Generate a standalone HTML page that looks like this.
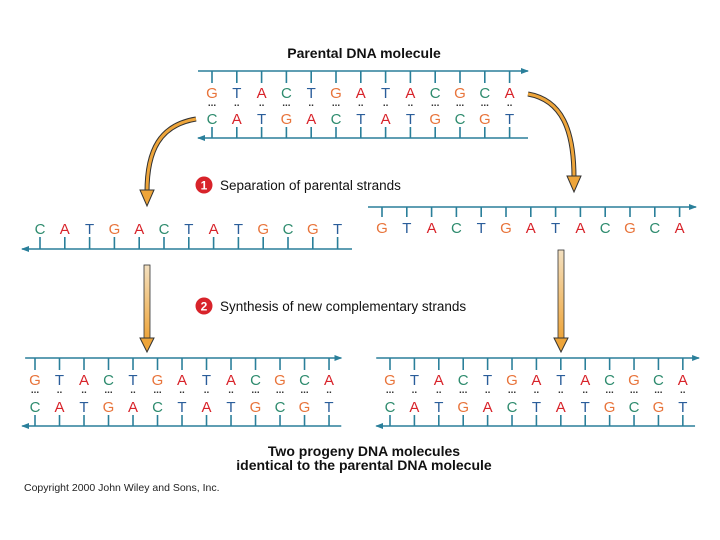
<!DOCTYPE html>
<html><head><meta charset="utf-8"><style>
html,body{margin:0;padding:0;background:#fff}
svg{display:block}
text{font-family:"Liberation Sans",Arial,sans-serif}
.G{fill:#e8743b}.T{fill:#2a5d9a}.A{fill:#d8232a}.C{fill:#2e8b6e}
.L{font-size:15px;text-anchor:middle}
.d{font-size:10px;text-anchor:middle;fill:#333;font-weight:bold}
</style></head><body>
<svg width="720" height="540" viewBox="0 0 720 540" xmlns="http://www.w3.org/2000/svg">
<defs>
<marker id="ar" markerWidth="8" markerHeight="6" refX="7" refY="3" orient="auto" markerUnits="userSpaceOnUse"><path d="M0,0 L8,3 L0,6 z" fill="#2a7f9a"/></marker>
<linearGradient id="og" x1="0" y1="0" x2="0" y2="1"><stop offset="0" stop-color="#f3e0c0"/><stop offset="1" stop-color="#eea53a"/></linearGradient>
</defs>

<text x="364" y="58" font-size="14" font-weight="bold" text-anchor="middle" fill="#111">Parental DNA molecule</text>

<g transform="translate(212,71)" stroke="#2a7f9a" stroke-width="1.6">
<line x1="-14" y1="0" x2="316" y2="0" marker-end="url(#ar)"/>
<line x1="316" y1="67" x2="-14" y2="67" marker-end="url(#ar)"/>
<path d="M0,0v12M24.8,0v12M49.6,0v12M74.4,0v12M99.2,0v12M124,0v12M148.8,0v12M173.6,0v12M198.4,0v12M223.2,0v12M248,0v12M272.8,0v12M297.6,0v12 M0,56v11M24.8,56v11M49.6,56v11M74.4,56v11M99.2,56v11M124,56v11M148.8,56v11M173.6,56v11M198.4,56v11M223.2,56v11M248,56v11M272.8,56v11M297.6,56v11"/>
</g>
<g transform="translate(212,71)">
<text class="L" y="27"><tspan x="0" class="G">G</tspan><tspan x="24.8" class="T">T</tspan><tspan x="49.6" class="A">A</tspan><tspan x="74.4" class="C">C</tspan><tspan x="99.2" class="T">T</tspan><tspan x="124" class="G">G</tspan><tspan x="148.8" class="A">A</tspan><tspan x="173.6" class="T">T</tspan><tspan x="198.4" class="A">A</tspan><tspan x="223.2" class="C">C</tspan><tspan x="248" class="G">G</tspan><tspan x="272.8" class="C">C</tspan><tspan x="297.6" class="A">A</tspan></text>
<text class="d" y="35"><tspan x="0">...</tspan><tspan x="24.8">..</tspan><tspan x="49.6">..</tspan><tspan x="74.4">...</tspan><tspan x="99.2">..</tspan><tspan x="124">...</tspan><tspan x="148.8">..</tspan><tspan x="173.6">..</tspan><tspan x="198.4">..</tspan><tspan x="223.2">...</tspan><tspan x="248">...</tspan><tspan x="272.8">...</tspan><tspan x="297.6">..</tspan></text>
<text class="L" y="53"><tspan x="0" class="C">C</tspan><tspan x="24.8" class="A">A</tspan><tspan x="49.6" class="T">T</tspan><tspan x="74.4" class="G">G</tspan><tspan x="99.2" class="A">A</tspan><tspan x="124" class="C">C</tspan><tspan x="148.8" class="T">T</tspan><tspan x="173.6" class="A">A</tspan><tspan x="198.4" class="T">T</tspan><tspan x="223.2" class="G">G</tspan><tspan x="248" class="C">C</tspan><tspan x="272.8" class="G">G</tspan><tspan x="297.6" class="T">T</tspan></text>
</g>

<path d="M196,119 C160,125 147,150 147,192" fill="none" stroke="#333" stroke-width="5"/>
<path d="M196,119 C160,125 147,150 147,192" fill="none" stroke="#eea53a" stroke-width="3"/>
<path d="M140,190 L154,190 L147,206 z" fill="#eea53a" stroke="#333" stroke-width="1"/>
<path d="M528,94 C562,100 574,130 574,178" fill="none" stroke="#333" stroke-width="5"/>
<path d="M528,94 C562,100 574,130 574,178" fill="none" stroke="#eea53a" stroke-width="3"/>
<path d="M567,176 L581,176 L574,192 z" fill="#eea53a" stroke="#333" stroke-width="1"/>

<circle cx="204" cy="185" r="8.5" fill="#d8232a"/>
<text x="204" y="189.5" font-size="12" font-weight="bold" fill="#fff" text-anchor="middle">1</text>
<text x="220" y="190" font-size="13.5" fill="#111">Separation of parental strands</text>

<g transform="translate(40,249)" stroke="#2a7f9a" stroke-width="1.6">
<line x1="312" y1="0" x2="-18" y2="0" marker-end="url(#ar)"/>
<path d="M0,0v-12M24.8,0v-12M49.6,0v-12M74.4,0v-12M99.2,0v-12M124,0v-12M148.8,0v-12M173.6,0v-12M198.4,0v-12M223.2,0v-12M248,0v-12M272.8,0v-12M297.6,0v-12"/>
</g>
<text class="L" y="234" transform="translate(40,0)"><tspan x="0" class="C">C</tspan><tspan x="24.8" class="A">A</tspan><tspan x="49.6" class="T">T</tspan><tspan x="74.4" class="G">G</tspan><tspan x="99.2" class="A">A</tspan><tspan x="124" class="C">C</tspan><tspan x="148.8" class="T">T</tspan><tspan x="173.6" class="A">A</tspan><tspan x="198.4" class="T">T</tspan><tspan x="223.2" class="G">G</tspan><tspan x="248" class="C">C</tspan><tspan x="272.8" class="G">G</tspan><tspan x="297.6" class="T">T</tspan></text>

<g transform="translate(382,207)" stroke="#2a7f9a" stroke-width="1.6">
<line x1="-14" y1="0" x2="314" y2="0" marker-end="url(#ar)"/>
<path d="M0,0v10M24.8,0v10M49.6,0v10M74.4,0v10M99.2,0v10M124,0v10M148.8,0v10M173.6,0v10M198.4,0v10M223.2,0v10M248,0v10M272.8,0v10M297.6,0v10"/>
</g>
<text class="L" y="233" transform="translate(382,0)"><tspan x="0" class="G">G</tspan><tspan x="24.8" class="T">T</tspan><tspan x="49.6" class="A">A</tspan><tspan x="74.4" class="C">C</tspan><tspan x="99.2" class="T">T</tspan><tspan x="124" class="G">G</tspan><tspan x="148.8" class="A">A</tspan><tspan x="173.6" class="T">T</tspan><tspan x="198.4" class="A">A</tspan><tspan x="223.2" class="C">C</tspan><tspan x="248" class="G">G</tspan><tspan x="272.8" class="C">C</tspan><tspan x="297.6" class="A">A</tspan></text>

<rect x="144" y="265" width="6" height="74" fill="url(#og)" stroke="#333" stroke-width="0.8"/>
<path d="M140,338 L154,338 L147,352 z" fill="#eea53a" stroke="#333" stroke-width="1"/>
<rect x="558" y="250" width="6" height="89" fill="url(#og)" stroke="#333" stroke-width="0.8"/>
<path d="M554,338 L568,338 L561,352 z" fill="#eea53a" stroke="#333" stroke-width="1"/>

<circle cx="204" cy="306" r="8.5" fill="#d8232a"/>
<text x="204" y="310.5" font-size="12" font-weight="bold" fill="#fff" text-anchor="middle">2</text>
<text x="220" y="311" font-size="13.5" fill="#111">Synthesis of new complementary strands</text>

<g transform="translate(35,358) scale(0.988,1)" stroke="#2a7f9a" stroke-width="1.6">
<line x1="-10" y1="0" x2="310" y2="0" marker-end="url(#ar)"/>
<line x1="310" y1="68" x2="-13" y2="68" marker-end="url(#ar)"/>
<path d="M0,0v12M24.8,0v12M49.6,0v12M74.4,0v12M99.2,0v12M124,0v12M148.8,0v12M173.6,0v12M198.4,0v12M223.2,0v12M248,0v12M272.8,0v12M297.6,0v12 M0,57v11M24.8,57v11M49.6,57v11M74.4,57v11M99.2,57v11M124,57v11M148.8,57v11M173.6,57v11M198.4,57v11M223.2,57v11M248,57v11M272.8,57v11M297.6,57v11"/>
</g>
<g transform="translate(35,358)">
<text class="L" y="27"><tspan x="0" class="G">G</tspan><tspan x="24.5" class="T">T</tspan><tspan x="49" class="A">A</tspan><tspan x="73.5" class="C">C</tspan><tspan x="98" class="T">T</tspan><tspan x="122.5" class="G">G</tspan><tspan x="147" class="A">A</tspan><tspan x="171.5" class="T">T</tspan><tspan x="196" class="A">A</tspan><tspan x="220.5" class="C">C</tspan><tspan x="245" class="G">G</tspan><tspan x="269.5" class="C">C</tspan><tspan x="294" class="A">A</tspan></text>
<text class="d" y="35"><tspan x="0">...</tspan><tspan x="24.5">..</tspan><tspan x="49">..</tspan><tspan x="73.5">...</tspan><tspan x="98">..</tspan><tspan x="122.5">...</tspan><tspan x="147">..</tspan><tspan x="171.5">..</tspan><tspan x="196">..</tspan><tspan x="220.5">...</tspan><tspan x="245">...</tspan><tspan x="269.5">...</tspan><tspan x="294">..</tspan></text>
<text class="L" y="54"><tspan x="0" class="C">C</tspan><tspan x="24.5" class="A">A</tspan><tspan x="49" class="T">T</tspan><tspan x="73.5" class="G">G</tspan><tspan x="98" class="A">A</tspan><tspan x="122.5" class="C">C</tspan><tspan x="147" class="T">T</tspan><tspan x="171.5" class="A">A</tspan><tspan x="196" class="T">T</tspan><tspan x="220.5" class="G">G</tspan><tspan x="245" class="C">C</tspan><tspan x="269.5" class="G">G</tspan><tspan x="294" class="T">T</tspan></text>
</g>

<g transform="translate(390,358) scale(0.984,1)" stroke="#2a7f9a" stroke-width="1.6">
<line x1="-14" y1="0" x2="314" y2="0" marker-end="url(#ar)"/>
<line x1="310" y1="68" x2="-14" y2="68" marker-end="url(#ar)"/>
<path d="M0,0v12M24.8,0v12M49.6,0v12M74.4,0v12M99.2,0v12M124,0v12M148.8,0v12M173.6,0v12M198.4,0v12M223.2,0v12M248,0v12M272.8,0v12M297.6,0v12 M0,57v11M24.8,57v11M49.6,57v11M74.4,57v11M99.2,57v11M124,57v11M148.8,57v11M173.6,57v11M198.4,57v11M223.2,57v11M248,57v11M272.8,57v11M297.6,57v11"/>
</g>
<g transform="translate(390,358)">
<text class="L" y="27"><tspan x="0" class="G">G</tspan><tspan x="24.4" class="T">T</tspan><tspan x="48.8" class="A">A</tspan><tspan x="73.2" class="C">C</tspan><tspan x="97.6" class="T">T</tspan><tspan x="122" class="G">G</tspan><tspan x="146.4" class="A">A</tspan><tspan x="170.8" class="T">T</tspan><tspan x="195.2" class="A">A</tspan><tspan x="219.6" class="C">C</tspan><tspan x="244" class="G">G</tspan><tspan x="268.4" class="C">C</tspan><tspan x="292.8" class="A">A</tspan></text>
<text class="d" y="35"><tspan x="0">...</tspan><tspan x="24.4">..</tspan><tspan x="48.8">..</tspan><tspan x="73.2">...</tspan><tspan x="97.6">..</tspan><tspan x="122">...</tspan><tspan x="146.4">..</tspan><tspan x="170.8">..</tspan><tspan x="195.2">..</tspan><tspan x="219.6">...</tspan><tspan x="244">...</tspan><tspan x="268.4">...</tspan><tspan x="292.8">..</tspan></text>
<text class="L" y="54"><tspan x="0" class="C">C</tspan><tspan x="24.4" class="A">A</tspan><tspan x="48.8" class="T">T</tspan><tspan x="73.2" class="G">G</tspan><tspan x="97.6" class="A">A</tspan><tspan x="122" class="C">C</tspan><tspan x="146.4" class="T">T</tspan><tspan x="170.8" class="A">A</tspan><tspan x="195.2" class="T">T</tspan><tspan x="219.6" class="G">G</tspan><tspan x="244" class="C">C</tspan><tspan x="268.4" class="G">G</tspan><tspan x="292.8" class="T">T</tspan></text>
</g>

<text x="364" y="456" font-size="14" font-weight="bold" text-anchor="middle" fill="#111">Two progeny DNA molecules</text>
<text x="364" y="470" font-size="14" font-weight="bold" text-anchor="middle" fill="#111">identical to the parental DNA molecule</text>
<text x="24" y="491" font-size="10.5" fill="#222">Copyright 2000 John Wiley and Sons, Inc.</text>
</svg>
</body></html>
